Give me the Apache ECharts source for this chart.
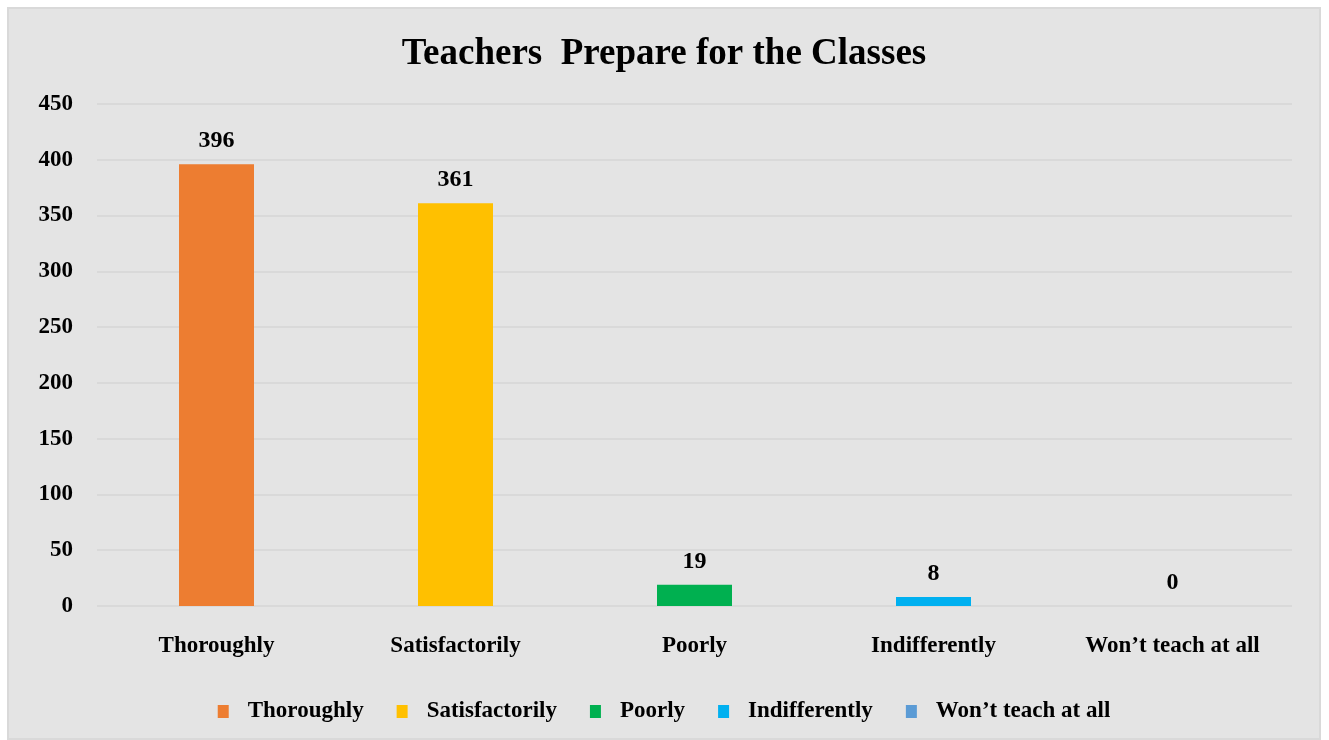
<!DOCTYPE html>
<html lang="en">
<head>
    <meta charset="UTF-8">
    <title>Teachers Prepare for the Classes</title>
    <script src="https://cdn.jsdelivr.net/npm/echarts@6/dist/echarts.min.js"></script>
    <style>
        *{
            padding: 0;
            margin: 0;
        }
        html, body{
            width: 100%;
            height: 100%;
            background: #fff;
        }
        .echarts{
            position: absolute;
            left: 7px;
            top: 7px;
            width: 1314px;
            height: 733px;
            box-sizing: border-box;
            border: 2px solid #d9d9d9;
            background: #e4e4e4;
        }
    </style>
</head>
<body>
<div class="echarts"></div>
<script>
    let categories = ['Thoroughly', 'Satisfactorily', 'Poorly', 'Indifferently', 'Won\u2019t teach at all'];
    let values = [396, 361, 19, 8, 0];
    let colors = ['#ED7D31', '#FFC000', '#00B050', '#00B0F0', '#5B9BD5'];
    let yTicks = [0, 50, 100, 150, 200, 250, 300, 350, 400, 450];

    window.onload = function () {
        let main = document.querySelector('.echarts');
        let myCharts = echarts.init(main);
        let font = '"Liberation Serif", "Times New Roman", serif';

        // one series per category so each gets its own legend entry
        let series = categories.map((name, i) => ({
            name: name,
            type: 'bar',
            stack: 'all',
            barWidth: 75,
            itemStyle: {color: colors[i]},
            label: {
                show: true,
                position: 'top',
                distance: 11,
                color: '#000',
                fontFamily: font,
                fontWeight: 'bold',
                fontSize: 24
            },
            data: categories.map((c, j) => j === i ? values[i] : '-')
        }));

        let option = {
            backgroundColor: 'transparent',
            animation: false,
            title: {
                text: 'Teachers  Prepare for the Classes',
                left: 'center',
                top: 22,
                textStyle: {
                    color: '#000',
                    fontFamily: font,
                    fontWeight: 'bold',
                    fontSize: 37
                }
            },
            legend: {
                data: categories,
                left: 'center',
                top: 686,
                icon: 'rect',
                itemWidth: 11,
                itemHeight: 13,
                itemGap: 33,
                textStyle: {
                    color: '#000',
                    fontFamily: font,
                    fontWeight: 'bold',
                    fontSize: 23,
                    padding: [0, 0, 0, 14]
                }
            },
            grid: {
                left: 88,
                right: 27,
                top: 95,
                bottom: 132
            },
            xAxis: {
                type: 'category',
                data: categories,
                axisLine: {show: false},
                axisTick: {show: false},
                axisLabel: {
                    margin: 29,
                    color: '#000',
                    fontFamily: font,
                    fontWeight: 'bold',
                    fontSize: 23
                }
            },
            yAxis: {
                type: 'value',
                min: yTicks[0],
                max: yTicks[yTicks.length - 1],
                interval: 50,
                axisLine: {show: false},
                axisTick: {show: false},
                splitLine: {
                    lineStyle: {color: '#d9d9d9', width: 2}
                },
                axisLabel: {
                    margin: 24,
                    color: '#000',
                    fontFamily: font,
                    fontWeight: 'bold',
                    fontSize: 23
                }
            },
            series
        };
        myCharts.setOption(option);
    }
</script>
</body>
</html>
